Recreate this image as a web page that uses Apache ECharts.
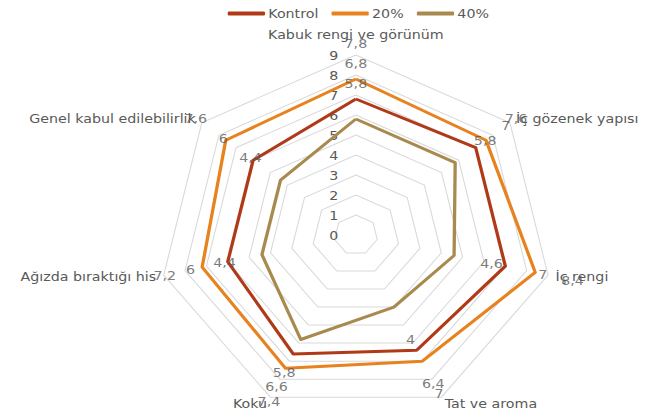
<!DOCTYPE html>
<html><head><meta charset="utf-8">
<script src="https://cdn.jsdelivr.net/npm/echarts@6/dist/echarts.min.js"></script>
<style>
html,body{margin:0;padding:0;background:#fff;overflow:hidden}
#wrap{width:645px;height:418px;overflow:hidden}
#chart{width:589px;height:418px;transform:scaleX(1.095);transform-origin:0 0}
</style></head><body><div id="wrap"><div id="chart"></div></div>
<script>
// Sensory attributes, listed clockwise from the top
const categories = ['Kabuk rengi ve görünüm', 'İç gözenek yapısı', 'İç rengi', 'Tat ve aroma', 'Koku', 'Ağızda bıraktığı his', 'Genel kabul edilebilirlik'];
const seriesNames = ['Kontrol', '20%', '40%'];
const kontrol = [6.8, 7, 7, 6.4, 6.6, 6, 6];
const yuzde20 = [7.8, 7.6, 8.4, 7, 7.4, 7.2, 7.6];
const yuzde40 = [5.8, 5.8, 4.6, 4, 5.8, 4.4, 4.4];
const scaleTicks = [0, 1, 2, 3, 4, 5, 6, 7, 8, 9];
const colors = ['#B03A17', '#E8821E', '#A88A4E'];

const FONT = 'DejaVu Sans';
const TEXT = '#595959';
const CENTER = [325, 235];
const RADIUS = 180;
const n = categories.length;
const maxV = scaleTicks[scaleTicks.length - 1];

// radar lays indicators out counter-clockwise, so walk the list backwards after the first
const order = [0];
for (let i = n - 1; i >= 1; i--) order.push(i);

const allValues = [kontrol, yuzde20, yuzde40];
const fmt = v => String(v).replace('.', ',');

const radarSeries = {
  type: 'radar',
  radarIndex: 0,
  symbol: 'none',
  data: allValues.map((vals, k) => ({
    name: seriesNames[k],
    value: order.map(i => vals[i]),
    lineStyle: { color: colors[k], width: 3 },
    itemStyle: { color: colors[k] }
  })),
  z: 2
};

// value labels pushed outward along each spoke
const labelSeries = allValues.map((vals, k) => ({
  type: 'scatter',
  name: 'lbl' + k,
  coordinateSystem: 'polar',
  symbolSize: 0,
  silent: true,
  z: 5,
  data: vals.map((v, i) => {
    const a = 2 * Math.PI * i / n;
    return {
      value: [v, i],
      label: { offset: [35 * Math.sin(a), -36 * Math.cos(a)] }
    };
  }),
  label: {
    show: true, position: 'inside', color: TEXT, fontSize: 13, fontFamily: FONT,
    formatter: p => fmt(p.value[0])
  }
}));

const option = {
  backgroundColor: '#fff',
  animation: false,
  color: colors,
  legend: {
    data: seriesNames,
    top: 2, left: 203,
    itemWidth: 34, itemHeight: 4, itemGap: 12,
    icon: 'roundRect',
    textStyle: { color: TEXT, fontSize: 13, fontFamily: FONT, padding: [0, 0, 0, -2] }
  },
  radar: {
    center: CENTER,
    radius: RADIUS,
    startAngle: 90,
    splitNumber: scaleTicks.length - 1,
    shape: 'polygon',
    indicator: order.map(i => ({ name: categories[i], min: scaleTicks[0], max: maxV })),
    axisName: {
      color: TEXT, fontSize: 13, fontFamily: FONT,
      formatter: name => name === categories[0] ? '{t|' + name + '}' : name,
      rich: { t: { color: TEXT, fontSize: 13, fontFamily: FONT, padding: [0, 0, 7, 0] } }
    },
    nameGap: 7,
    axisLine: { show: false },
    axisTick: { show: false },
    splitArea: { show: false },
    splitLine: { lineStyle: { color: '#D9D9D9', width: 1 } }
  },
  polar: { center: CENTER, radius: RADIUS },
  angleAxis: {
    type: 'category', data: categories, startAngle: 90, clockwise: true,
    boundaryGap: false, show: false
  },
  radiusAxis: {
    type: 'value', min: scaleTicks[0], max: maxV, interval: 1,
    axisLine: { show: false }, axisTick: { show: false }, splitLine: { show: false },
    axisLabel: { show: true, color: TEXT, fontSize: 13, fontFamily: FONT, margin: 16, padding: [0, 0, 3, 0] }
  },
  series: [radarSeries].concat(labelSeries)
};

const chart = echarts.init(document.getElementById('chart'), null, { renderer: 'svg' });
chart.setOption(option);
</script></body></html>
